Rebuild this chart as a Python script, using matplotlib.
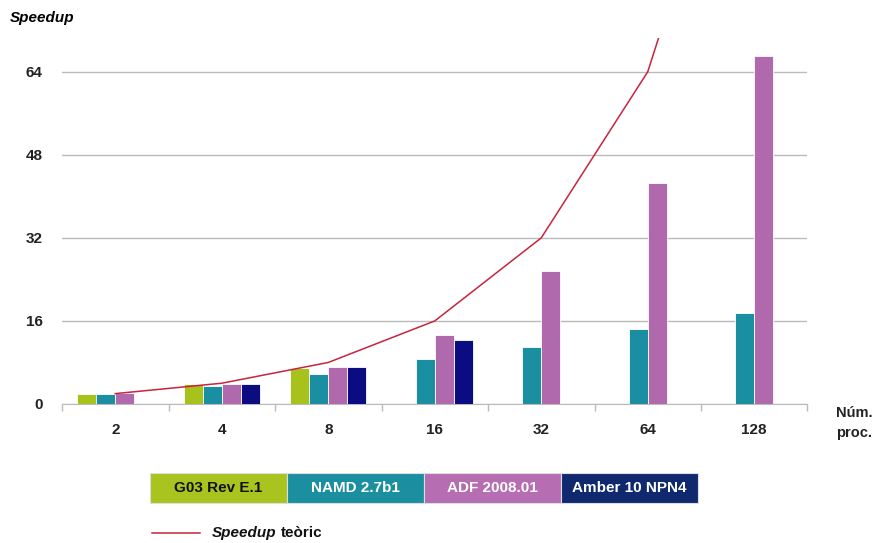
import matplotlib
matplotlib.use("Agg")
import matplotlib.pyplot as plt
from matplotlib.patches import Rectangle
import numpy as np

plt.rcParams['font.family'] = ['Liberation Sans', 'DejaVu Sans']

# data
procs = ['2', '4', '8', '16', '32', '64', '128']
theoretical = [2, 4, 8, 16, 32, 64, 128]
series_names = ['G03 Rev E.1', 'NAMD 2.7b1', 'ADF 2008.01', 'Amber 10 NPN4']
g03 = [1.9, 3.9, 6.9, None, None, None, None]
namd = [1.9, 3.5, 5.8, 8.7, 11.0, 14.4, 17.5]
adf = [2.1, 3.9, 7.1, 13.3, 25.6, 42.6, 67.0]
amber = [None, 3.9, 7.1, 12.3, None, None, None]

bar_colors = ['#A7C21B', '#1A8FA2', '#B069AC', '#0B0B82']
legend_colors = ['#A9C41F', '#1B8FA0', '#B66DB2', '#10296E']
legend_text = ['#111111', 'white', 'white', 'white']
line_color = '#C8233F'

fig = plt.figure(figsize=(8.76, 5.43), dpi=100)
ax = fig.add_axes([0.0708, 0.256, 0.851, 0.674])

x = np.arange(len(procs))
w = 0.178
for i, vals in enumerate([g03, namd, adf, amber]):
    xs = [xi + (i - 1.5) * w for xi, v in zip(x, vals) if v is not None]
    ys = [v for v in vals if v is not None]
    ax.bar(xs, ys, width=w, color=bar_colors[i], edgecolor='white', linewidth=0.6, zorder=3)

ax.plot(x, theoretical, color=line_color, linewidth=1.1, zorder=4)

ax.set_xlim(-0.5, 6.5)
ax.set_ylim(0, 70.5)
ax.set_yticks([0, 16, 32, 48, 64])
ax.set_yticklabels(['0', '16', '32', '48', '64'], fontsize=11, fontweight='bold', color='#222222')
ax.yaxis.grid(True, color='#BBBBBB', linewidth=1, zorder=0)
ax.tick_params(axis='y', length=0, pad=14)

ax.set_xticks(x)
ax.set_xticklabels(procs, fontsize=11, fontweight='bold', color='#222222')
ax.tick_params(axis='x', length=0, pad=14)
ax.set_xticks(np.arange(-0.5, 7.0, 1.0), minor=True)
ax.tick_params(axis='x', which='minor', length=5, color='#BBBBBB', width=1)

for s in ['left', 'right', 'top']:
    ax.spines[s].set_visible(False)
ax.spines['bottom'].set_color('#BBBBBB')

fig.text(0.011, 0.967, 'Speedup', fontsize=11, fontweight='bold', style='italic', va='center')
fig.text(836 / 876, 1 - 423 / 543, 'Núm.\nproc.', fontsize=10.5, fontweight='bold', ha='left', va='center',
         linespacing=1.5, color='#222222')

# legend boxes
lx0, lw, ly0, lh = 150 / 876, 137 / 876, 1 - 503 / 543, 30 / 543
for i, name in enumerate(series_names):
    fig.patches.append(Rectangle((lx0 + i * lw, ly0), lw, lh, transform=fig.transFigure,
                                 facecolor=legend_colors[i], edgecolor='#DDDDDD', linewidth=0.8))
    fig.text(lx0 + (i + 0.5) * lw, ly0 + lh / 2, name, ha='center', va='center',
             fontsize=11, fontweight='bold', color=legend_text[i])

ly = 1 - 533 / 543
fig.lines.append(plt.Line2D([152 / 876, 200 / 876], [ly, ly], transform=fig.transFigure,
                            color=line_color, linewidth=1.1))
t1 = fig.text(212 / 876, ly, 'Speedup', fontsize=11, fontweight='bold', style='italic',
              va='center', color='#111111')
fig.canvas.draw()
bb = t1.get_window_extent().transformed(fig.transFigure.inverted())
fig.text(bb.x1 + 4 / 876, ly, 'teòric', fontsize=11, fontweight='bold', va='center', color='#111111')

fig.savefig('out.png', dpi=100)
